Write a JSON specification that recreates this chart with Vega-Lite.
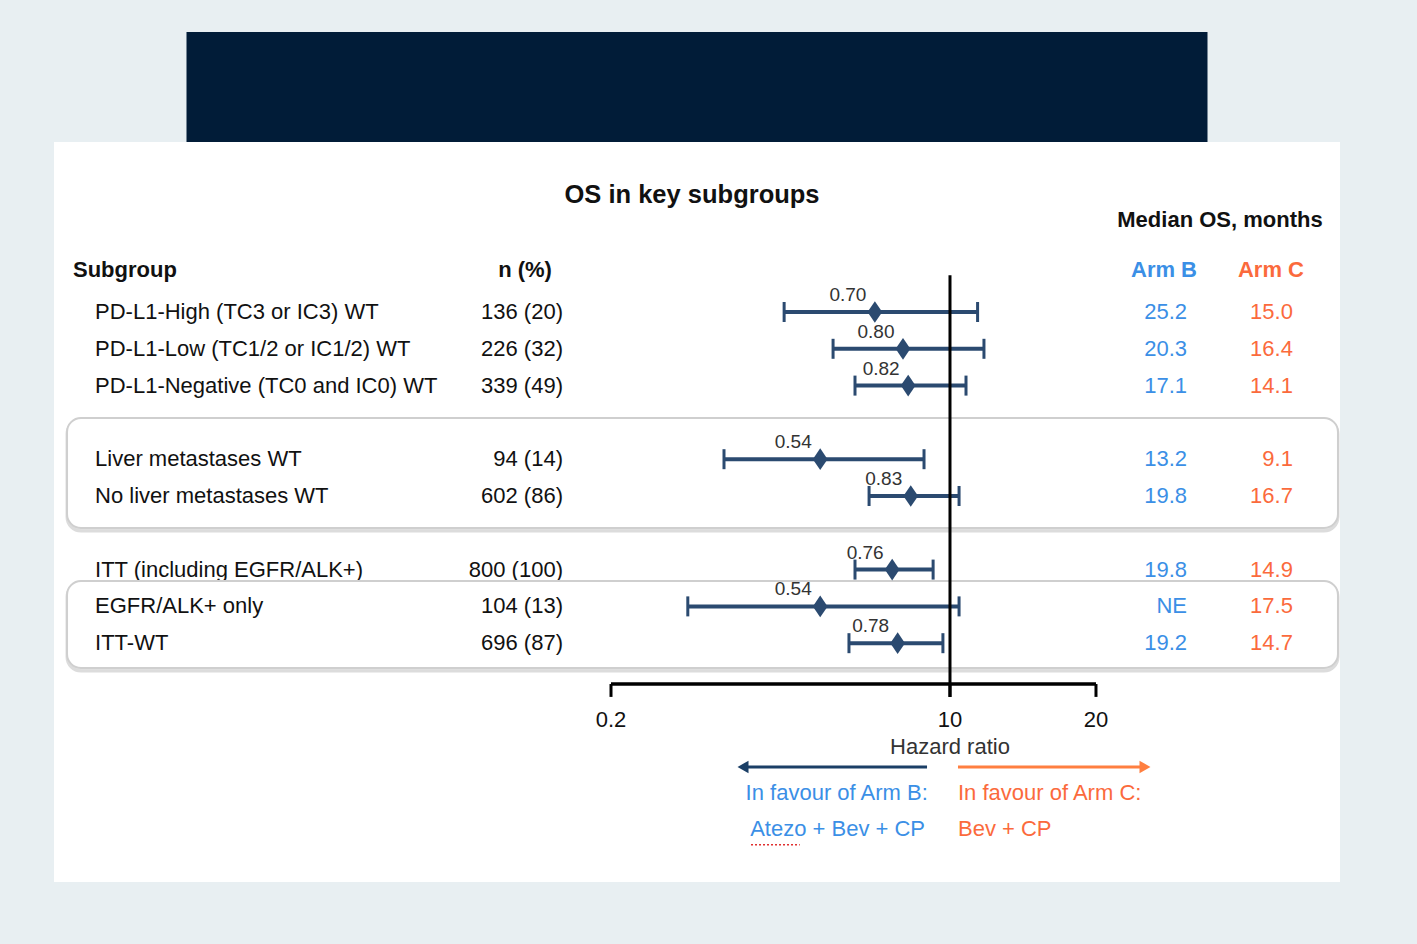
{
  "$schema": "https://vega.github.io/schema/vega-lite/v6.json",
  "background": "#e8eff2",
  "padding": {"left": 54, "top": 32, "right": 77, "bottom": 62},
  "spacing": 0,
  "center": true,
  "datasets": {
    "rows": [
      {"row": 1, "subgroup": "PD-L1-High (TC3 or IC3) WT", "n": "136 (20)", "hr": 0.70, "lo": 0.455, "hi": 1.14, "armB": "25.2", "armC": "15.0"},
      {"row": 2, "subgroup": "PD-L1-Low (TC1/2 or IC1/2) WT", "n": "226 (32)", "hr": 0.80, "lo": 0.574, "hi": 1.175, "armB": "20.3", "armC": "16.4"},
      {"row": 3, "subgroup": "PD-L1-Negative (TC0 and IC0) WT", "n": "339 (49)", "hr": 0.82, "lo": 0.637, "hi": 1.079, "armB": "17.1", "armC": "14.1"},
      {"row": 5, "subgroup": "Liver metastases WT", "n": "94 (14)", "hr": 0.54, "lo": 0.342, "hi": 0.884, "armB": "13.2", "armC": "9.1"},
      {"row": 6, "subgroup": "No liver metastases WT", "n": "602 (86)", "hr": 0.83, "lo": 0.681, "hi": 1.044, "armB": "19.8", "armC": "16.7"},
      {"row": 8, "subgroup": "ITT (including EGFR/ALK+)", "n": "800 (100)", "hr": 0.76, "lo": 0.637, "hi": 0.923, "armB": "19.8", "armC": "14.9"},
      {"row": 9, "subgroup": "EGFR/ALK+ only", "n": "104 (13)", "hr": 0.54, "lo": 0.288, "hi": 1.044, "armB": "NE", "armC": "17.5"},
      {"row": 10, "subgroup": "ITT-WT", "n": "696 (87)", "hr": 0.78, "lo": 0.619, "hi": 0.967, "armB": "19.2", "armC": "14.7"}
    ],
    "ticks": [
      {"tick": 0.2, "label": "0.2"},
      {"tick": 1, "label": "10"},
      {"tick": 2, "label": "20"}
    ]
  },
  "config": {
    "view": {"stroke": null},
    "axis": {"disable": true},
    "text": {"font": "Liberation Sans, Arial, sans-serif", "fontSize": 22, "color": "#111111", "baseline": "middle"}
  },
  "vconcat": [
    {
      "width": 1021,
      "height": 110,
      "view": {"fill": "#011c38", "stroke": null},
      "data": {"values": [{}]},
      "mark": {"type": "text", "text": " "},
      "encoding": {}
    },
    {
      "width": 1286,
      "height": 740,
      "view": {"fill": "#ffffff", "stroke": null},
      "data": {"name": "rows"},
      "layer": [
        {
          "transform": [{"filter": "datum.row == 8"}],
          "layer": [
            {"mark": {"type": "text", "align": "left"},
             "encoding": {"x": {"datum": 0.017264, "type": "quantitative", "scale": {"type": "log", "domain": [0.014208, 6.3705], "nice": false}, "axis": null},
                          "y": {"field": "row", "type": "quantitative", "scale": {"domain": [-3.62, 16.49], "reverse": true, "nice": false, "zero": false}, "axis": null},
                          "text": {"field": "subgroup"}}},
            {"mark": {"type": "text", "align": "right"},
             "encoding": {"x": {"datum": 0.15923, "type": "quantitative"}, "y": {"field": "row", "type": "quantitative"}, "text": {"field": "n"}}},
            {"mark": {"type": "text", "align": "right", "color": "#3b8fe6"},
             "encoding": {"x": {"datum": 3.0812, "type": "quantitative"}, "y": {"field": "row", "type": "quantitative"}, "text": {"field": "armB"}}},
            {"mark": {"type": "text", "align": "right", "color": "#fb6a3c"},
             "encoding": {"x": {"datum": 5.0951, "type": "quantitative"}, "y": {"field": "row", "type": "quantitative"}, "text": {"field": "armC"}}}
          ]
        },
        {
          "data": {"values": [{}]},
          "mark": {"type": "rect", "fill": "#e2e2e2", "stroke": "#dcdcdc", "strokeWidth": 3, "cornerRadius": 14, "yOffset": 2, "y2Offset": 3},
          "encoding": {"x": {"datum": 0.015114, "type": "quantitative"}, "x2": {"datum": 6.3096}, "y": {"datum": 3.88, "type": "quantitative"}, "y2": {"datum": 6.87}}
        },
        {
          "data": {"values": [{}]},
          "mark": {"type": "rect", "fill": "#e2e2e2", "stroke": "#dcdcdc", "strokeWidth": 3, "cornerRadius": 14, "yOffset": 2, "y2Offset": 3},
          "encoding": {"x": {"datum": 0.015114, "type": "quantitative"}, "x2": {"datum": 6.3096}, "y": {"datum": 8.31, "type": "quantitative"}, "y2": {"datum": 10.674}}
        },
        {
          "data": {"values": [{}]},
          "mark": {"type": "rect", "fill": "#ffffff", "stroke": "#cfcfcf", "strokeWidth": 2, "cornerRadius": 14},
          "encoding": {"x": {"datum": 0.015114, "type": "quantitative"}, "x2": {"datum": 6.3096}, "y": {"datum": 3.88, "type": "quantitative"}, "y2": {"datum": 6.87}}
        },
        {
          "data": {"values": [{}]},
          "mark": {"type": "rect", "fill": "#ffffff", "stroke": "#cfcfcf", "strokeWidth": 2, "cornerRadius": 14},
          "encoding": {"x": {"datum": 0.015114, "type": "quantitative"}, "x2": {"datum": 6.3096}, "y": {"datum": 8.31, "type": "quantitative"}, "y2": {"datum": 10.674}}
        },
        {
          "transform": [{"filter": "datum.row != 8"}],
          "layer": [
            {"mark": {"type": "text", "align": "left"},
             "encoding": {"x": {"datum": 0.017264, "type": "quantitative"}, "y": {"field": "row", "type": "quantitative"}, "text": {"field": "subgroup"}}},
            {"mark": {"type": "text", "align": "right"},
             "encoding": {"x": {"datum": 0.15923, "type": "quantitative"}, "y": {"field": "row", "type": "quantitative"}, "text": {"field": "n"}}},
            {"mark": {"type": "text", "align": "right", "color": "#3b8fe6"},
             "encoding": {"x": {"datum": 3.0812, "type": "quantitative"}, "y": {"field": "row", "type": "quantitative"}, "text": {"field": "armB"}}},
            {"mark": {"type": "text", "align": "right", "color": "#fb6a3c"},
             "encoding": {"x": {"datum": 5.0951, "type": "quantitative"}, "y": {"field": "row", "type": "quantitative"}, "text": {"field": "armC"}}}
          ]
        },
        {
          "mark": {"type": "rule", "color": "#2b4a70", "strokeWidth": 4},
          "encoding": {"x": {"field": "lo", "type": "quantitative"}, "x2": {"field": "hi"}, "y": {"field": "row", "type": "quantitative"}}
        },
        {
          "mark": {"type": "rule", "color": "#2b4a70", "strokeWidth": 3, "yOffset": -10, "y2Offset": 10},
          "encoding": {"x": {"field": "lo", "type": "quantitative"}, "y": {"field": "row", "type": "quantitative"}, "y2": {"field": "row"}}
        },
        {
          "mark": {"type": "rule", "color": "#2b4a70", "strokeWidth": 3, "yOffset": -10, "y2Offset": 10},
          "encoding": {"x": {"field": "hi", "type": "quantitative"}, "y": {"field": "row", "type": "quantitative"}, "y2": {"field": "row"}}
        },
        {
          "mark": {"type": "point", "shape": "M0,-1L0.68,0L0,1L-0.68,0Z", "filled": true, "size": 470, "color": "#2b4a70", "opacity": 1},
          "encoding": {"x": {"field": "hr", "type": "quantitative"}, "y": {"field": "row", "type": "quantitative"}}
        },
        {
          "mark": {"type": "text", "align": "center", "dx": -27, "dy": -17, "fontSize": 19, "color": "#333333"},
          "encoding": {"x": {"field": "hr", "type": "quantitative"}, "y": {"field": "row", "type": "quantitative"}, "text": {"field": "hr", "type": "quantitative", "format": ".2f"}}
        },
        {
          "data": {"values": [{}]},
          "mark": {"type": "rule", "color": "#000000", "strokeWidth": 3},
          "encoding": {"x": {"datum": 1, "type": "quantitative"}, "y": {"datum": 0, "type": "quantitative"}, "y2": {"datum": 11.46}}
        },
        {
          "data": {"values": [{}]},
          "mark": {"type": "rule", "color": "#000000", "strokeWidth": 3.5},
          "encoding": {"x": {"datum": 0.2, "type": "quantitative"}, "x2": {"datum": 2}, "y": {"datum": 11.11, "type": "quantitative"}}
        },
        {
          "data": {"name": "ticks"},
          "layer": [
            {"mark": {"type": "rule", "color": "#000000", "strokeWidth": 3},
             "encoding": {"x": {"field": "tick", "type": "quantitative"}, "y": {"datum": 11.11, "type": "quantitative"}, "y2": {"datum": 11.46}}},
            {"mark": {"type": "text", "align": "center", "fontSize": 22},
             "encoding": {"x": {"field": "tick", "type": "quantitative"}, "y": {"datum": 12.09, "type": "quantitative"}, "text": {"field": "label"}}}
          ]
        },
        {
          "data": {"values": [{}]},
          "mark": {"type": "text", "align": "center", "text": "Hazard ratio", "color": "#333333"},
          "encoding": {"x": {"datum": 1, "type": "quantitative"}, "y": {"datum": 12.82, "type": "quantitative"}}
        },
        {
          "data": {"values": [{}]},
          "mark": {"type": "rule", "color": "#1b3f66", "strokeWidth": 3},
          "encoding": {"x": {"datum": 0.3743, "type": "quantitative"}, "x2": {"datum": 0.8967}, "y": {"datum": 13.364, "type": "quantitative"}}
        },
        {
          "data": {"values": [{}]},
          "mark": {"type": "point", "shape": "triangle-left", "filled": true, "size": 160, "color": "#1b3f66", "opacity": 1},
          "encoding": {"x": {"datum": 0.3743, "type": "quantitative"}, "y": {"datum": 13.364, "type": "quantitative"}}
        },
        {
          "data": {"values": [{}]},
          "mark": {"type": "rule", "color": "#ff7f40", "strokeWidth": 3},
          "encoding": {"x": {"datum": 1.0387, "type": "quantitative"}, "x2": {"datum": 2.5237}, "y": {"datum": 13.364, "type": "quantitative"}}
        },
        {
          "data": {"values": [{}]},
          "mark": {"type": "point", "shape": "triangle-right", "filled": true, "size": 160, "color": "#ff7f40", "opacity": 1},
          "encoding": {"x": {"datum": 2.5237, "type": "quantitative"}, "y": {"datum": 13.364, "type": "quantitative"}}
        },
        {
          "data": {"values": [{}]},
          "mark": {"type": "text", "align": "right", "text": "In favour of Arm B:", "color": "#3b8fe6"},
          "encoding": {"x": {"datum": 0.9, "type": "quantitative"}, "y": {"datum": 14.07, "type": "quantitative"}}
        },
        {
          "data": {"values": [{}]},
          "mark": {"type": "text", "align": "right", "text": "Atezo + Bev + CP", "color": "#3b8fe6"},
          "encoding": {"x": {"datum": 0.8882, "type": "quantitative"}, "y": {"datum": 15.05, "type": "quantitative"}}
        },
        {
          "data": {"values": [{}]},
          "mark": {"type": "rule", "color": "#e03030", "strokeWidth": 1.5, "strokeDash": [2, 2]},
          "encoding": {"x": {"datum": 0.3888, "type": "quantitative"}, "x2": {"datum": 0.49}, "y": {"datum": 15.48, "type": "quantitative"}}
        },
        {
          "data": {"values": [{}]},
          "mark": {"type": "text", "align": "left", "text": "In favour of Arm C:", "color": "#fb6a3c"},
          "encoding": {"x": {"datum": 1.0387, "type": "quantitative"}, "y": {"datum": 14.07, "type": "quantitative"}}
        },
        {
          "data": {"values": [{}]},
          "mark": {"type": "text", "align": "left", "text": "Bev + CP", "color": "#fb6a3c"},
          "encoding": {"x": {"datum": 1.0387, "type": "quantitative"}, "y": {"datum": 15.05, "type": "quantitative"}}
        },
        {
          "data": {"values": [{}]},
          "mark": {"type": "text", "align": "center", "text": "OS in key subgroups", "fontWeight": "bold", "fontSize": 25.5},
          "encoding": {"x": {"datum": 0.29384, "type": "quantitative"}, "y": {"datum": -2.18, "type": "quantitative"}}
        },
        {
          "data": {"values": [{}]},
          "mark": {"type": "text", "align": "center", "text": "Median OS, months", "fontWeight": "bold"},
          "encoding": {"x": {"datum": 3.603, "type": "quantitative"}, "y": {"datum": -1.5, "type": "quantitative"}}
        },
        {
          "data": {"values": [{}]},
          "mark": {"type": "text", "align": "left", "text": "Subgroup", "fontWeight": "bold"},
          "encoding": {"x": {"datum": 0.01555, "type": "quantitative"}, "y": {"datum": -0.14, "type": "quantitative"}}
        },
        {
          "data": {"values": [{}]},
          "mark": {"type": "text", "align": "center", "text": "n (%)", "fontWeight": "bold"},
          "encoding": {"x": {"datum": 0.13298, "type": "quantitative"}, "y": {"datum": -0.14, "type": "quantitative"}}
        },
        {
          "data": {"values": [{}]},
          "mark": {"type": "text", "align": "center", "text": "Arm B", "fontWeight": "bold", "color": "#3b8fe6"},
          "encoding": {"x": {"datum": 2.7623, "type": "quantitative"}, "y": {"datum": -0.14, "type": "quantitative"}}
        },
        {
          "data": {"values": [{}]},
          "mark": {"type": "text", "align": "center", "text": "Arm C", "fontWeight": "bold", "color": "#fb6a3c"},
          "encoding": {"x": {"datum": 4.5894, "type": "quantitative"}, "y": {"datum": -0.14, "type": "quantitative"}}
        }
      ]
    }
  ]
}
